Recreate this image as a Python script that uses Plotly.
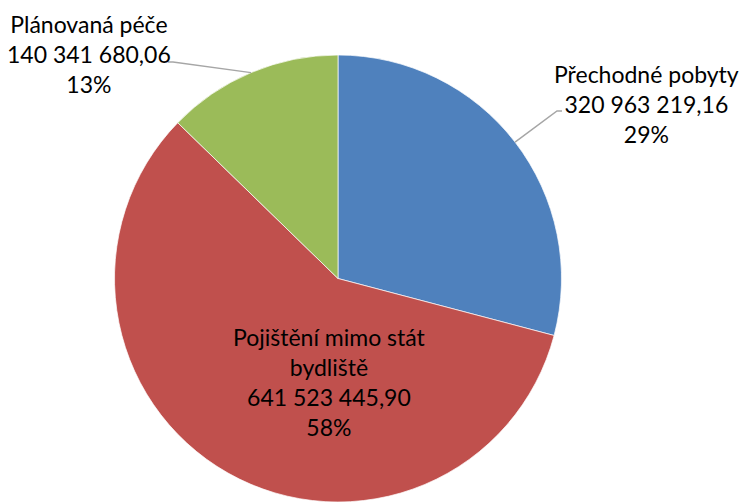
import math
import plotly.graph_objects as go

# ---- data ----
categories = ["Přechodné pobyty", "Pojištění mimo stát<br>bydliště", "Plánovaná péče"]
values = [320963219.16, 641523445.90, 140341680.06]
colors = ["#4F81BD", "#C0504D", "#9BBB59"]

W, H = 745, 502
# pie placement (pixels)
pie_left, pie_right, pie_top = 113, 563, 55

def fmt(v):
    s = f"{v:,.2f}"
    return s.replace(",", " ").replace(".", ",")

total = sum(values)
pcts = [v / total * 100 for v in values]
labels_txt = [f"{c}<br>{fmt(v)}<br>{round(p):.0f}%" for c, v, p in zip(categories, values, pcts)]

fig = go.Figure(go.Pie(
    labels=[c.replace("<br>", " ") for c in categories],
    values=values,
    marker=dict(colors=colors, line=dict(color="white", width=0.7)),
    sort=False,
    direction="clockwise",
    rotation=0,
    textinfo="none",
    hoverinfo="label+value+percent",
    showlegend=False,
    domain=dict(x=[pie_left / W, pie_right / W], y=[0, 1 - pie_top / H]),
))

# geometry of the pie in pixels
dom_h = H - pie_top
dom_w = pie_right - pie_left
r = min(dom_h, dom_w) / 2
cx = (pie_left + pie_right) / 2
cy = pie_top + dom_h / 2

def px(x, y):
    return x / W, 1 - y / H

# label positions (pixel centers) and leader attach points (text side)
label_pos = [(646, 104), (329, 382), (89, 54)]
attach = [(562, 111), None, (168, 62)]
fontfam = "Lato, 'Open Sans', sans-serif"

cum = 0
for i, v in enumerate(values):
    frac_mid = (cum + v / 2) / total
    cum += v
    ang = frac_mid * 2 * math.pi
    ex, ey = cx + r * math.sin(ang), cy - r * math.cos(ang)
    lx, ly = label_pos[i]
    X, Y = px(lx, ly)
    fig.add_annotation(x=X, y=Y, xref="paper", yref="paper", text=labels_txt[i],
                       showarrow=False, align="center", xanchor="center", yanchor="middle",
                       font=dict(family=fontfam, size=23, color="#000000"))
    if attach[i] is not None:
        ax_, ay_ = attach[i]
        hx = ax_ - 5 if ax_ > cx else ax_ + 5
        x0, y0 = px(ax_, ay_)
        x1, y1 = px(hx, ay_)
        x2, y2 = px(ex, ey)
        fig.add_shape(type="path", xref="paper", yref="paper",
                      path=f"M {x0} {y0} L {x1} {y1} L {x2} {y2}",
                      line=dict(color="#A6A6A6", width=1.5))

fig.update_layout(
    width=W, height=H,
    margin=dict(l=0, r=0, t=0, b=0),
    paper_bgcolor="white", plot_bgcolor="white",
)

fig.write_html("out.html", config={"displayModeBar": False},
               post_script="document.body.style.margin='0';document.body.style.overflow='hidden';")
